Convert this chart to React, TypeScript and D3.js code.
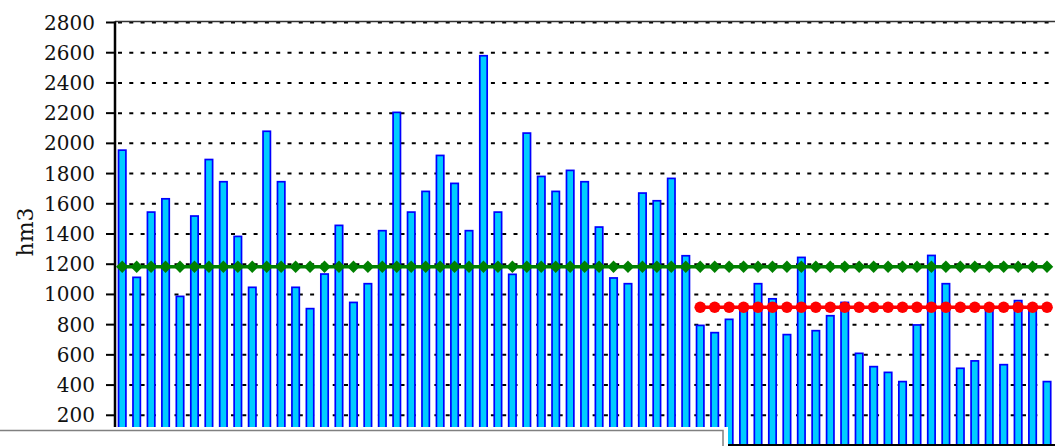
import React from "react";
import * as d3 from "d3";

const values: number[] = [
  1955, 1113, 1545, 1633, 987, 1519, 1893, 1746, 1384, 1047,
  2080, 1746, 1047, 906, 1135, 1457, 947, 1071, 1422, 2205,
  1545, 1682, 1920, 1735, 1422, 2580, 1545, 1133, 2068, 1781,
  1682, 1821, 1746, 1446, 1109, 1071, 1671, 1620, 1768, 1256,
  795, 747, 835, 900, 1071, 971, 734, 1245, 760, 859,
  947, 610, 522, 484, 423, 798, 1258, 1071, 511, 560,
  900, 535, 959, 895, 423,
];
const categories: string[] = values.map((_, i) => String(i + 1));
const meanAll = 1183;
const meanRecent = 915;
const recentStartIndex = 40;
const yTicks: number[] = [200, 400, 600, 800, 1000, 1200, 1400, 1600, 1800, 2000, 2200, 2400, 2600, 2800];
const yLabel = "hm3";

const W = 1055;
const H = 446;
const axisX = 115;
const step = 14.45;

export default function App() {
  const y = d3.scaleLinear().domain([0, 2800]).range([445.5, 22.5]);
  const x = d3
    .scaleBand<string>()
    .domain(categories)
    .range([axisX, axisX + categories.length * step])
    .paddingInner(0.42)
    .paddingOuter(0.21);
  const bw = x.bandwidth();
  const cx = (c: string) => (x(c) as number) + bw / 2;

  const greenPts = categories.map((c) => [cx(c), y(meanAll)] as [number, number]);
  const redCats = categories.slice(recentStartIndex);
  const redPts = redCats.map((c) => [cx(c), y(meanRecent)] as [number, number]);
  const line = d3.line();
  const diamond = (px: number, py: number, r: number) =>
    `M${px},${py - r}L${px + r},${py}L${px},${py + r}L${px - r},${py}Z`;

  return (
    <svg
      width={W}
      height={H}
      style={{ position: "absolute", left: 0, top: 0, display: "block", background: "#fff" }}
    >
      {yTicks.map((t) => (
        <line
          key={"g" + t}
          x1={axisX}
          x2={W}
          y1={y(t)}
          y2={y(t)}
          stroke="#000"
          strokeWidth={2}
          strokeDasharray="4 7.3"
          strokeDashoffset={-3}
        />
      ))}
      <line x1={axisX} x2={W} y1={y(2800) - 1} y2={y(2800) - 1} stroke="#333" strokeWidth={1.5} />
      {values.map((v, i) => (
        <rect
          key={"b" + i}
          x={(x(categories[i]) as number) + 0.5}
          y={y(v)}
          width={bw - 1}
          height={y(0) - y(v)}
          fill="#00CCFF"
          stroke="#0000FF"
          strokeWidth={1.7}
        />
      ))}
      <line x1={axisX} x2={W} y1={445} y2={445} stroke="#000" strokeWidth={2} />
      <path d={line(greenPts) || ""} fill="none" stroke="#008000" strokeWidth={3.5} />
      {greenPts.map((p, i) => (
        <path key={"d" + i} d={diamond(p[0], p[1], 6.2)} fill="#008000" />
      ))}
      <path d={line(redPts) || ""} fill="none" stroke="#FF0000" strokeWidth={3.5} />
      {redPts.map((p, i) => (
        <circle key={"r" + i} cx={p[0]} cy={p[1]} r={5.8} fill="#FF0000" />
      ))}
      <line x1={axisX} x2={axisX} y1={y(2800) - 1} y2={H} stroke="#000" strokeWidth={2.5} />
      {yTicks.map((t) => (
        <g key={"t" + t}>
          <line x1={106} x2={axisX} y1={y(t)} y2={y(t)} stroke="#000" strokeWidth={2} />
          <text
            x={95}
            y={y(t)}
            textAnchor="end"
            dominantBaseline="central"
            fontFamily="'DejaVu Serif', serif"
            fontSize={20}
            fill="#111"
          >
            {t}
          </text>
        </g>
      ))}
      <text
        transform={`translate(25,232) rotate(-90)`}
        textAnchor="middle"
        dominantBaseline="central"
        fontFamily="'DejaVu Serif', serif"
        fontSize={22}
        fill="#111"
      >
        {yLabel}
      </text>
      <rect x={-5} y={427} width={733} height={40} fill="#fff" />
      <rect x={-5} y={430.5} width={728} height={40} fill="#fff" stroke="#808080" strokeWidth={1.5} />
    </svg>
  );
}
